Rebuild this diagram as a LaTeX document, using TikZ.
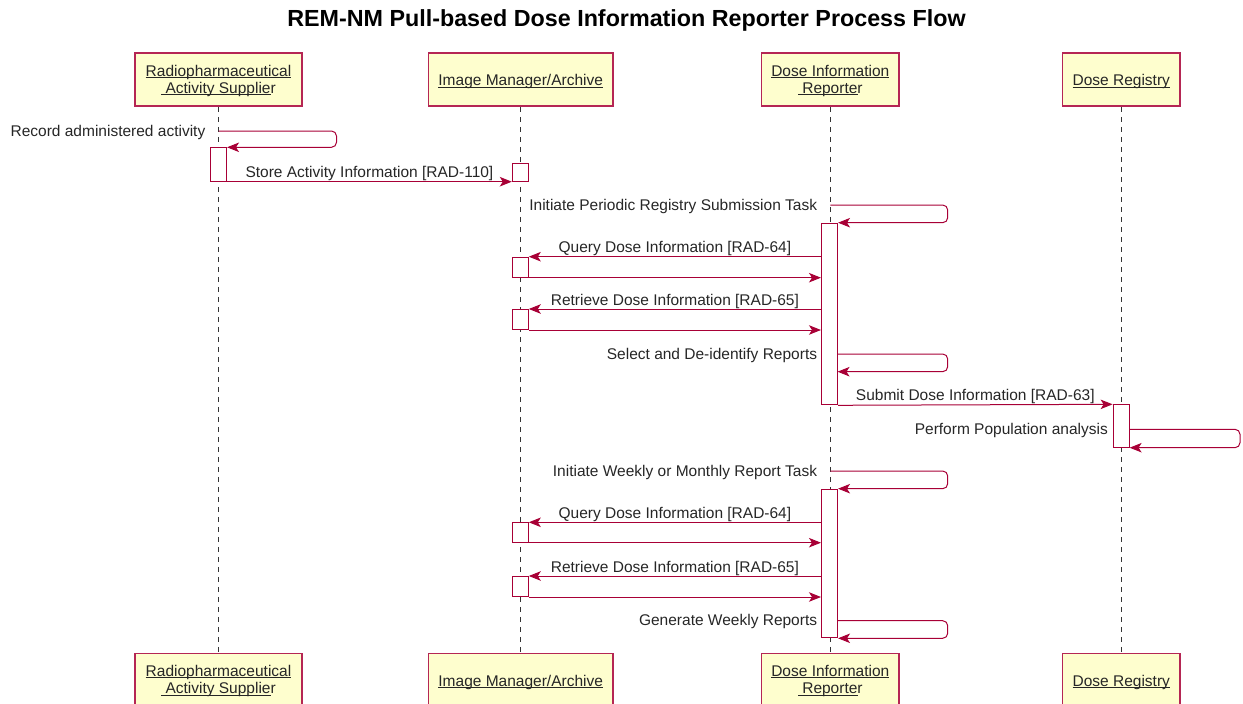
\documentclass[tikz,border=0pt]{standalone}
\usepackage{fontspec}
\setmainfont{Liberation Sans}
\usetikzlibrary{arrows.meta}
\definecolor{pborder}{HTML}{A80036}
\definecolor{pfill}{HTML}{FEFECE}
\newsavebox{\myulbox}
\newcommand{\ulx}[1]{\sbox{\myulbox}{#1}\rlap{\rule[-2pt]{\wd\myulbox}{0.9pt}}\usebox{\myulbox}}
\newcommand{\ulsp}[1]{\sbox{\myulbox}{#1}\rlap{\rule[-2pt]{\wd\myulbox}{0.9pt}}\hspace{0.278em}\usebox{\myulbox}}
\tikzset{
  pbox/.style={draw=pborder!85, fill=pfill, line width=1.5pt, minimum height=53pt, inner sep=0pt},
  ptxt/.style={anchor=base, inner sep=0pt, text=black!85},
  actbox/.style={draw=pborder, fill=white, line width=1pt, minimum width=16pt, inner sep=0pt, anchor=north},
  lifeline/.style={draw=black!80, line width=1pt, dash pattern=on 5pt off 5pt},
  msg/.style={draw=pborder, line width=1pt, -{Stealth[length=12pt,width=9.5pt,inset=3pt]}},
  selfmsg/.style={msg, rounded corners=5pt},
  lbl/.style={anchor=base, inner sep=0pt, yshift=4pt, text=black!85},
  slbl/.style={anchor=base east, inner sep=0pt, text=black!85}
}
\begin{document}
\begin{tikzpicture}[x=1pt, y=-1pt, font=\fontsize{15.5pt}{17.3pt}\selectfont]
\useasboundingbox (0,0) rectangle (1243,704);
% title
\node[anchor=base, inner sep=0pt, font=\bfseries\fontsize{23.3pt}{28pt}\selectfont] (title) at (626.5,27) {REM-NM Pull-based Dose Information Reporter Process Flow};
% participants top
\node[pbox, minimum width=167pt] (radTop) at (218.5,79.5) {};
\node[pbox, minimum width=184.7pt] (imTop) at (520.7,79.5) {};
\node[pbox, minimum width=137.3pt] (repTop) at (830.3,79.5) {};
\node[pbox, minimum width=117.3pt] (regTop) at (1121.3,79.5) {};
% participants bottom
\node[pbox, minimum width=167pt] (radBot) at (218.5,679.8) {};
\node[pbox, minimum width=184.7pt] (imBot) at (520.7,679.8) {};
\node[pbox, minimum width=137.3pt] (repBot) at (830.3,679.8) {};
\node[pbox, minimum width=117.3pt] (regBot) at (1121.3,679.8) {};
% participant texts
\node[ptxt] (radTopA) at (218.5,76) {\ulx{Radiopharmaceutical}};
\node[ptxt] (radTopB) at (218.5,93.3) {\ulsp{Activity Supplier}};
\node[ptxt] (imTopA) at (520.7,85.7) {\ulx{Image Manager/Archive}};
\node[ptxt] (repTopA) at (830.3,76) {\ulx{Dose Information}};
\node[ptxt] (repTopB) at (830.3,93.3) {\ulsp{Reporter}};
\node[ptxt] (regTopA) at (1121.3,85.7) {\ulx{Dose Registry}};
\node[ptxt] (radBotA) at (218.5,676.3) {\ulx{Radiopharmaceutical}};
\node[ptxt] (radBotB) at (218.5,693.6) {\ulsp{Activity Supplier}};
\node[ptxt] (imBotA) at (520.7,686) {\ulx{Image Manager/Archive}};
\node[ptxt] (repBotA) at (830.3,676.3) {\ulx{Dose Information}};
\node[ptxt] (repBotB) at (830.3,693.6) {\ulsp{Reporter}};
\node[ptxt] (regBotA) at (1121.3,686) {\ulx{Dose Registry}};
% lifelines
\draw[lifeline] (radTop.south) -- (radBot.north);
\draw[lifeline] (imTop.south) -- (imBot.north);
\draw[lifeline] (repTop.south) -- (repBot.north);
\draw[lifeline] (regTop.south) -- (regBot.north);
% activation boxes
\node[actbox, minimum height=33.4pt] (radAct) at (218.5,147.3) {};
\node[actbox, minimum height=17.4pt] (imAct) at (520.3,163.3) {};
\node[actbox, minimum height=181.6pt] (repAct1) at (829.5,222.7) {};
\node[actbox, minimum height=20pt] (imQ1) at (520.3,256.7) {};
\node[actbox, minimum height=20pt] (imR1) at (520.3,309) {};
\node[actbox, minimum height=42.4pt] (regAct) at (1121.1,404.3) {};
\node[actbox, minimum height=148.6pt] (repAct2) at (829.5,488.7) {};
\node[actbox, minimum height=19.4pt] (imQ2) at (520.3,522.3) {};
\node[actbox, minimum height=20pt] (imR2) at (520.3,576) {};
% self message start points
\coordinate (recS) at (218.5,131);
\coordinate (ipS) at (830.3,205);
\coordinate (selS) at (837.5,354);
\coordinate (selE) at (837.5,371.7);
\coordinate (popS) at (1129.1,429.3);
\coordinate (iwS) at (830.3,471);
\coordinate (genS) at (837.5,620.7);
% messages
\draw[selfmsg] (recS) -- (336.5,131) |- (radAct.north east);
\node[slbl] (recL) at (205.5,136) {Record administered activity};
\draw[msg] (radAct.south east) -- node[lbl] (storeL) {Store Activity Information [RAD-110]} (imAct.south west);
\draw[selfmsg] (ipS) -- (947.7,205) |- (repAct1.north east);
\node[slbl] (ipL) at (817.3,210.7) {Initiate Periodic Registry Submission Task};
\draw[msg] (repAct1.west |- imQ1.north) -- node[lbl] (q1L) {Query Dose Information [RAD-64]} (imQ1.north east);
\draw[msg] (imQ1.south east) -- (repAct1.west |- imQ1.south);
\draw[msg] (repAct1.west |- imR1.north) -- node[lbl] (r1L) {Retrieve Dose Information [RAD-65]} (imR1.north east);
\draw[msg] (imR1.south east) -- (repAct1.west |- imR1.south);
\draw[selfmsg] (selS) -- (947.7,354) |- (selE);
\node[slbl] (selL) at (817.3,359) {Select and De-identify Reports};
\draw[msg] (repAct1.south east) -- node[lbl] (subL) {Submit Dose Information [RAD-63]} (regAct.north west);
\draw[selfmsg] (popS) -- (1240,429.3) |- (regAct.south east);
\node[slbl] (popL) at (1108,434.3) {Perform Population analysis};
\draw[selfmsg] (iwS) -- (947.7,471) |- (repAct2.north east);
\node[slbl] (iwL) at (817.3,476.5) {Initiate Weekly or Monthly Report Task};
\draw[msg] (repAct2.west |- imQ2.north) -- node[lbl] (q2L) {Query Dose Information [RAD-64]} (imQ2.north east);
\draw[msg] (imQ2.south east) -- (repAct2.west |- imQ2.south);
\draw[msg] (repAct2.west |- imR2.north) -- node[lbl] (r2L) {Retrieve Dose Information [RAD-65]} (imR2.north east);
\draw[msg] (imR2.south east) -- (repAct2.west |- imR2.south);
\draw[selfmsg] (genS) -- (947.7,620.7) |- (repAct2.south east);
\node[slbl] (genL) at (817.3,625.5) {Generate Weekly Reports};
\end{tikzpicture}
\end{document}
